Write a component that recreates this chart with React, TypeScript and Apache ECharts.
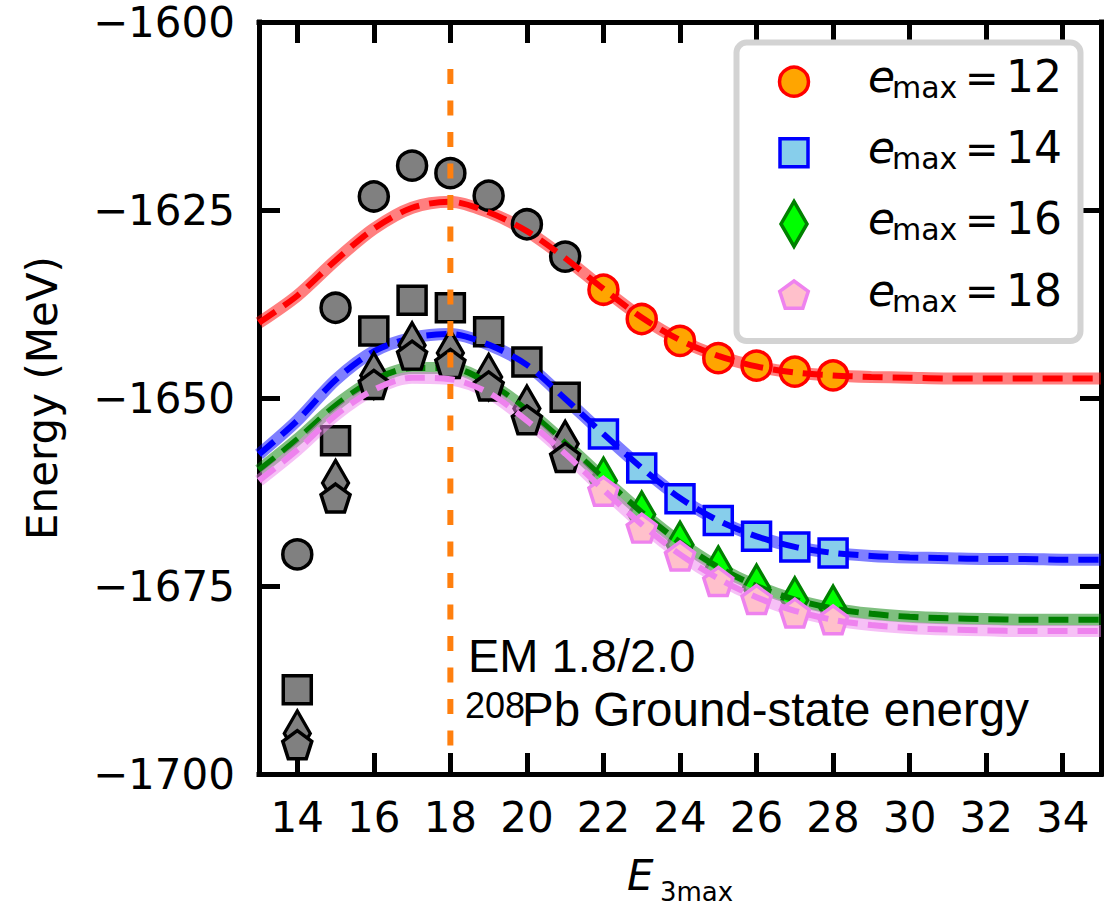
import React, { useEffect, useRef } from 'react';
import * as echarts from 'echarts';

// ---- data ----
const grayE3 = [14, 15, 16, 17, 18, 19, 20, 21];
const colorE3 = [22, 23, 24, 25, 26, 27, 28];
const curveE3 = [13, 14, 15, 16, 17, 18, 19, 20, 21, 22, 23, 24, 25, 26, 27, 28, 29, 30, 31, 32, 33, 34, 35];

const gray12 = [-1670.8, -1638.0, -1623.2, -1619.1, -1620.1, -1623.1, -1626.9, -1631.2];
const pts12 = [-1635.6, -1639.5, -1642.4, -1644.7, -1645.7, -1646.5, -1647.0];
const gray14 = [-1688.8, -1655.7, -1641.1, -1637.0, -1638.0, -1641.2, -1645.2, -1649.9];
const pts14 = [-1654.8, -1659.3, -1663.4, -1666.3, -1668.4, -1669.8, -1670.6];
const gray16 = [-1694.6, -1661.3, -1647.0, -1643.0, -1644.0, -1647.2, -1651.4, -1656.1];
const pts16 = [-1661.0, -1665.5, -1669.5, -1672.8, -1675.2, -1676.9, -1678.0];
const gray18 = [-1696.1, -1663.3, -1648.2, -1644.3, -1645.4, -1648.4, -1652.9, -1657.9];
const pts18 = [-1662.4, -1667.3, -1671.0, -1674.4, -1676.8, -1678.6, -1679.5];

const curve12 = [-1640.0, -1636.4, -1631.7, -1627.5, -1624.7, -1623.9, -1625.3, -1627.8, -1631.4, -1635.5, -1639.3, -1642.3, -1644.4, -1645.8, -1646.6, -1647.0, -1647.2, -1647.3, -1647.4, -1647.4, -1647.4, -1647.4, -1647.4];
const curve14 = [-1657.5, -1653.0, -1647.6, -1643.8, -1642.0, -1641.5, -1642.9, -1645.6, -1650.1, -1654.8, -1659.3, -1663.3, -1666.3, -1668.4, -1669.8, -1670.6, -1671.0, -1671.2, -1671.3, -1671.4, -1671.4, -1671.5, -1671.5];
const curve16 = [-1659.6, -1655.5, -1651.0, -1647.6, -1646.0, -1646.0, -1648.0, -1651.6, -1656.0, -1660.7, -1665.2, -1669.2, -1672.5, -1675.0, -1676.8, -1678.0, -1678.7, -1679.1, -1679.3, -1679.4, -1679.5, -1679.5, -1679.5];
const curve18 = [-1661.0, -1656.9, -1652.3, -1648.9, -1647.3, -1647.5, -1649.3, -1653.0, -1657.4, -1662.2, -1666.8, -1670.8, -1674.0, -1676.5, -1678.3, -1679.5, -1680.2, -1680.6, -1680.8, -1680.9, -1681.0, -1681.0, -1681.0];

const emaxLabels = ['12', '14', '16', '18'];
const xTicks = [14, 16, 18, 20, 22, 24, 26, 28, 30, 32, 34];
const markerE3 = 18;
const markerRange = [-1696.2, -1604.8];

// ---- styles ----
const lineColors = ['#ff0000', '#0000ff', '#008000', '#ee82ee'];
const fillColors = ['#ffa500', '#87ceeb', '#00ff00', '#ffc0cb'];
const bandColors = ['rgba(255,0,0,0.5)', 'rgba(0,0,255,0.5)', 'rgba(0,128,0,0.5)', 'rgba(238,130,238,0.5)'];
const PENTAGON = 'path://M0,-1L0.951,-0.309L0.588,0.809L-0.588,0.809L-0.951,-0.309Z';
const symbols: any[] = ['circle', 'rect', 'diamond', PENTAGON];
const symbolSizes: any[] = [29, 28, [26, 45], [29, 28]];

const grays = [gray12, gray14, gray16, gray18];
const pts = [pts12, pts14, pts16, pts18];
const curves = [curve12, curve14, curve16, curve18];

const TICK_FONT = 'DejaVu Sans';

export default function App() {
  const ref = useRef<HTMLDivElement>(null);
  useEffect(() => {
    const chart = echarts.init(ref.current!, null, { renderer: 'svg' });
    const series: any[] = [];
    for (let i = 0; i < 4; i++) {
      const cdata = curveE3.map((x, k) => [x, curves[i][k]]);
      series.push({
        type: 'line', data: cdata, smooth: 0.3, symbol: 'none', silent: true, z: 3 + 4 * i,
        lineStyle: { color: bandColors[i], width: 12 },
      });
      series.push({
        type: 'scatter', data: grayE3.map((x, k) => [x, grays[i][k]]), symbol: symbols[i], symbolSize: symbolSizes[i],
        silent: true, z: 4 + 4 * i,
        itemStyle: { color: '#808080', borderColor: '#000000', borderWidth: 3.5, opacity: 1 },
      });
      series.push({
        type: 'scatter', data: colorE3.map((x, k) => [x, pts[i][k]]), symbol: symbols[i], symbolSize: symbolSizes[i],
        silent: true, z: 4 + 4 * i,
        itemStyle: { color: fillColors[i], borderColor: lineColors[i], borderWidth: 3.5, opacity: 1 },
      });
      series.push({
        type: 'line', data: cdata, smooth: 0.3, symbol: 'none', silent: true, z: 5 + 4 * i,
        lineStyle: { color: lineColors[i], width: 6, type: [20, 10] },
      });
    }
    series.push({
      type: 'line', data: markerRange.map((y) => [markerE3, y]), symbol: 'none', silent: true, z: 40,
      lineStyle: { color: '#ff7f0e', width: 6, type: [15, 16.5] },
    });

    const axisLineStyle = { color: '#000', width: 5, cap: 'square' };
    const tickStyle = { color: '#000', width: 5 };

    // legend graphics
    const graphic: any[] = [];
    graphic.push({
      type: 'rect', shape: { x: 736.5, y: 42.6, width: 344, height: 298.5, r: 10 },
      style: { fill: 'rgba(255,255,255,0.85)', stroke: '#d3d3d3', lineWidth: 6 }, z: 100,
    });
    const mx = 794;
    emaxLabels.forEach((lab, i) => {
      const R = 81.7 + i * 71.1;
      const st = { fill: fillColors[i], stroke: lineColors[i], lineWidth: 3.5 };
      if (i === 0) graphic.push({ type: 'circle', shape: { cx: mx, cy: R, r: 14.5 }, style: st, z: 101 });
      if (i === 1) graphic.push({ type: 'rect', shape: { x: mx - 14, y: R - 14, width: 28, height: 28 }, style: st, z: 101 });
      if (i === 2) graphic.push({ type: 'polygon', shape: { points: [[mx, R - 22.5], [mx + 13, R], [mx, R + 22.5], [mx - 13, R]] }, style: st, z: 101 });
      if (i === 3) {
        const pr = 15;
        const p = [0, 1, 2, 3, 4].map((k) => {
          const a = -Math.PI / 2 + (k * 2 * Math.PI) / 5;
          return [mx + pr * Math.cos(a), R + 1 + pr * Math.sin(a)];
        });
        graphic.push({ type: 'polygon', shape: { points: p }, style: st, z: 101 });
      }
      graphic.push({ type: 'text', x: 868, y: R - 5, z: 101, style: { text: 'e', fontFamily: 'DejaVu Sans', fontStyle: 'italic', fontSize: 44, fill: '#000', verticalAlign: 'middle' } });
      graphic.push({ type: 'text', x: 892, y: R + 6, z: 101, style: { text: 'max', fontFamily: 'DejaVu Sans', fontSize: 30, fill: '#000', verticalAlign: 'middle' } });
      graphic.push({ type: 'text', x: 965, y: R - 4, z: 101, style: { text: '=', fontFamily: 'DejaVu Sans', fontSize: 40, fill: '#000', verticalAlign: 'middle' } });
      graphic.push({ type: 'text', x: 1006, y: R - 5, z: 101, style: { text: lab, fontFamily: 'DejaVu Sans', fontSize: 44, fill: '#000', verticalAlign: 'middle' } });
    });
    // annotation
    graphic.push({ type: 'text', x: 468, y: 655, z: 50, style: { text: 'EM 1.8/2.0', fontFamily: 'Liberation Sans', fontSize: 47, fill: '#000', verticalAlign: 'middle' } });
    graphic.push({ type: 'text', x: 465, y: 705, z: 50, style: { text: '208', fontFamily: 'Liberation Sans', fontSize: 36, fill: '#000', verticalAlign: 'middle' } });
    graphic.push({ type: 'text', x: 522, y: 709, z: 50, style: { text: 'Pb Ground-state energy', fontFamily: 'Liberation Sans', fontSize: 47.5, fill: '#000', verticalAlign: 'middle' } });
    // x axis title
    graphic.push({ type: 'text', x: 627, y: 875, style: { text: 'E', fontFamily: 'DejaVu Sans', fontStyle: 'italic', fontSize: 42, fill: '#000', verticalAlign: 'middle' } });
    graphic.push({ type: 'text', x: 660, y: 892, style: { text: '3max', fontFamily: 'DejaVu Sans', fontSize: 26, fill: '#000', verticalAlign: 'middle' } });

    const option: any = {
      animation: false,
      backgroundColor: '#ffffff',
      grid: { left: 259, top: 22, width: 842, height: 752, containLabel: false },
      xAxis: [
        {
          type: 'value', min: 13, max: 35, position: 'bottom',
          axisLine: { show: true, lineStyle: axisLineStyle },
          axisTick: { show: true, inside: true, length: 21, lineStyle: tickStyle, customValues: xTicks },
          axisLabel: { show: true, customValues: xTicks, fontSize: 42, lineHeight: 40, fontFamily: TICK_FONT, color: '#000', margin: 23 },
          splitLine: { show: false },
        },
        {
          type: 'value', min: 13, max: 35, position: 'top',
          axisLine: { show: true, lineStyle: axisLineStyle },
          axisTick: { show: true, inside: true, length: 21, lineStyle: tickStyle, customValues: xTicks },
          axisLabel: { show: false },
          splitLine: { show: false },
        },
      ],
      yAxis: [
        {
          type: 'value', min: -1700, max: -1600, interval: 25, position: 'left',
          axisLine: { show: true, lineStyle: axisLineStyle },
          axisTick: { show: true, inside: true, length: 21, lineStyle: tickStyle },
          axisLabel: { fontSize: 42, lineHeight: 40, fontFamily: TICK_FONT, color: '#000', margin: 24, formatter: (v: number) => String(v).replace('-', '\u2212') },
          splitLine: { show: false },
          name: 'Energy (MeV)', nameLocation: 'middle', nameGap: 196,
          nameTextStyle: { fontSize: 42, fontFamily: TICK_FONT, color: '#000' },
        },
        {
          type: 'value', min: -1700, max: -1600, interval: 25, position: 'right',
          axisLine: { show: true, lineStyle: axisLineStyle },
          axisTick: { show: true, inside: true, length: 21, lineStyle: tickStyle },
          axisLabel: { show: false },
          splitLine: { show: false },
        },
      ],
      series,
      graphic,
    };
    chart.setOption(option);
    return () => chart.dispose();
  }, []);
  return <div ref={ref} style={{ position: 'fixed', left: 0, top: 0, width: 1115, height: 913, background: '#fff' }} />;
}
